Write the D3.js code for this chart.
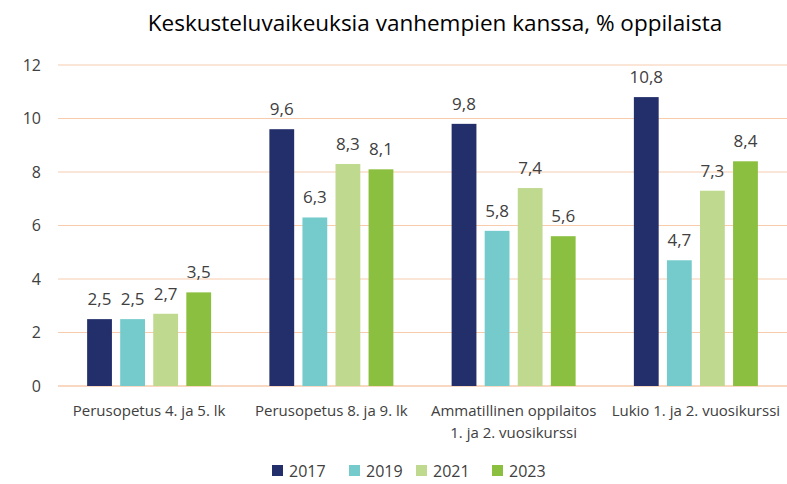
<!DOCTYPE html>
<html>
<head>
    <meta charset="utf-8">
    <title>Keskusteluvaikeuksia vanhempien kanssa</title>
    <script src="https://d3js.org/d3.v7.min.js"></script>
    <style>
        body { margin: 0; background: #fff; }
        text { font-family: "Open Sans", sans-serif; fill: #404040; }
    </style>
</head>
<body>
    <svg id="chart" width="787" height="484"></svg>

    <script>
        const categories = [
            ['Perusopetus 4. ja 5. lk'],
            ['Perusopetus 8. ja 9. lk'],
            ['Ammatillinen oppilaitos', '1. ja 2. vuosikurssi'],
            ['Lukio 1. ja 2. vuosikurssi']
        ];
        const years = ['2017', '2019', '2021', '2023'];
        const values2017 = [2.5, 9.6, 9.8, 10.8];
        const values2019 = [2.5, 6.3, 5.8, 4.7];
        const values2021 = [2.7, 8.3, 7.4, 7.3];
        const values2023 = [3.5, 8.1, 5.6, 8.4];
        const yTicks = [0, 2, 4, 6, 8, 10, 12];
        const colors = ['#232f6b', '#75cbcc', '#bfd98f', '#8bbf3f'];

        const series = [values2017, values2019, values2021, values2023];

        const svg = d3.select('#chart');
        const plotLeft = 58, plotRight = 787, plotTop = 65, plotBottom = 386;

        const x0 = d3.scaleBand()
            .domain(d3.range(categories.length))
            .range([plotLeft, plotRight]);

        const x1 = d3.scaleBand()
            .domain(d3.range(years.length))
            .range([0, 124])
            .paddingInner(0.25);

        const y = d3.scaleLinear().domain([0, 12]).range([plotBottom, plotTop]);

        // gridlines
        svg.append('g')
            .selectAll('line')
            .data(yTicks)
            .enter()
            .append('line')
            .attr('x1', plotLeft)
            .attr('x2', plotRight)
            .attr('y1', d => y(d))
            .attr('y2', d => y(d))
            .attr('stroke', d => d === 0 ? '#f4b183' : '#f8cbad')
            .attr('stroke-width', 1.2);

        // y tick labels
        svg.append('g')
            .selectAll('text')
            .data(yTicks)
            .enter()
            .append('text')
            .attr('x', 41)
            .attr('y', d => y(d))
            .attr('dy', '0.35em')
            .attr('text-anchor', 'end')
            .style('font-size', '16px')
            .text(d => d);

        // bars
        const groups = svg.append('g')
            .selectAll('g')
            .data(categories)
            .enter()
            .append('g')
            .attr('transform', (d, i) => `translate(${x0(i) + (x0.bandwidth() - 124) / 2},0)`);

        groups.each(function (c, i) {
            const g = d3.select(this);
            series.forEach(function (s, j) {
                g.append('rect')
                    .attr('x', x1(j))
                    .attr('y', y(s[i]))
                    .attr('width', x1.bandwidth())
                    .attr('height', y(0) - y(s[i]))
                    .attr('fill', colors[j]);
                g.append('text')
                    .attr('x', x1(j) + x1.bandwidth() / 2)
                    .attr('y', y(s[i]) - 14)
                    .attr('text-anchor', 'middle')
                    .style('font-size', '17px')
                    .text(String(s[i]).replace('.', ','));
            });
        });

        // category labels
        const catLabels = svg.append('g')
            .selectAll('text')
            .data(categories)
            .enter()
            .append('text')
            .attr('x', (d, i) => x0(i) + x0.bandwidth() / 2)
            .attr('y', 416)
            .attr('text-anchor', 'middle')
            .style('font-size', '15px');

        catLabels.each(function (lines) {
            const t = d3.select(this);
            lines.forEach(function (line, k) {
                t.append('tspan')
                    .attr('x', t.attr('x'))
                    .attr('dy', k === 0 ? 0 : '1.45em')
                    .text(line);
            });
        });

        // keep labels inside the page and apart from each other
        const nodes = catLabels.nodes();
        let limit = plotRight - 1;
        for (let k = nodes.length - 1; k >= 0; k--) {
            const box = nodes[k].getBBox();
            const t = d3.select(nodes[k]);
            if (box.x + box.width > limit) {
                const nx = +t.attr('x') - (box.x + box.width - limit);
                t.attr('x', nx).selectAll('tspan').attr('x', nx);
            }
            limit = nodes[k].getBBox().x - 4;
        }

        // title
        svg.append('text')
            .attr('x', 435)
            .attr('y', 31)
            .attr('text-anchor', 'middle')
            .style('font-size', '22.5px')
            .style('fill', '#000')
            .text('Keskusteluvaikeuksia vanhempien kanssa, % oppilaista');

        // legend
        const legendX = [272, 349, 416, 492];
        const legend = svg.append('g')
            .selectAll('g')
            .data(years)
            .enter()
            .append('g')
            .attr('transform', (d, i) => `translate(${legendX[i]},465)`);

        legend.append('rect')
            .attr('width', 11)
            .attr('height', 11)
            .attr('fill', (d, i) => colors[i]);

        legend.append('text')
            .attr('x', 17)
            .attr('y', 6)
            .attr('dy', '0.35em')
            .style('font-size', '16px')
            .text(d => d);
    </script>
</body>
</html>
